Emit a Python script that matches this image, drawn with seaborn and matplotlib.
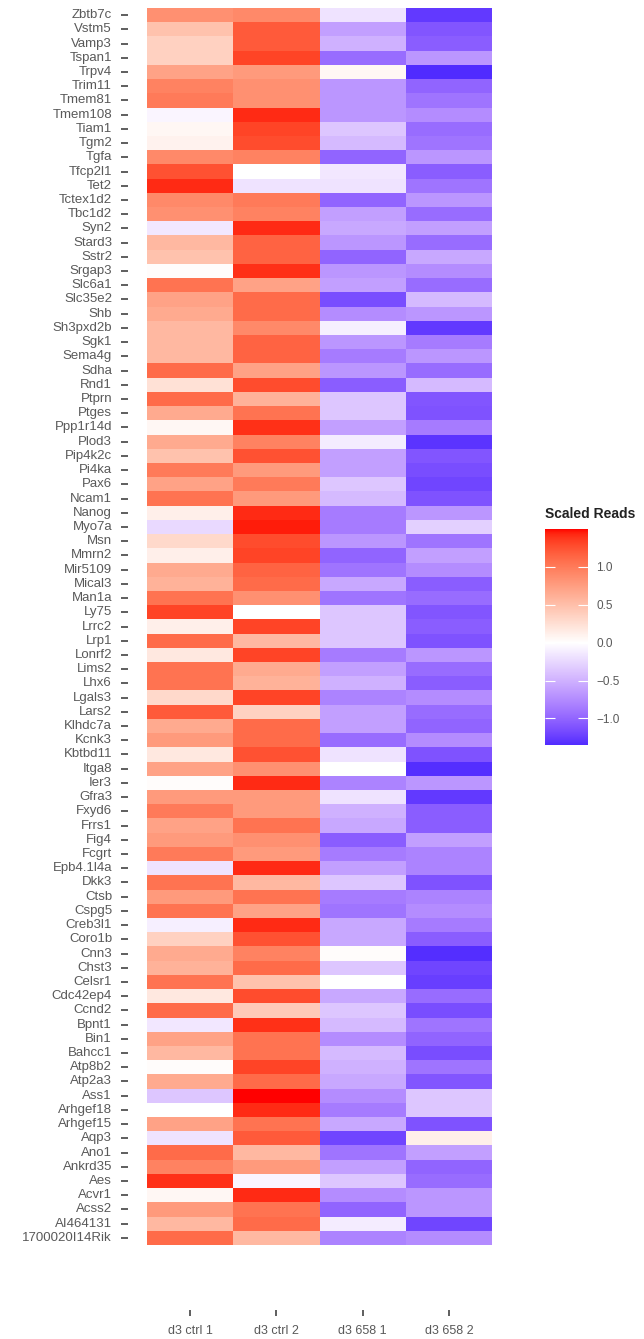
import numpy as np
import pandas as pd
import matplotlib
matplotlib.use("Agg")
import matplotlib.pyplot as plt
from matplotlib.colors import ListedColormap
import seaborn as sns

# ---- data -------------------------------------------------------------
genes = [
    "Zbtb7c", "Vstm5", "Vamp3", "Tspan1", "Trpv4", "Trim11", "Tmem81", "Tmem108",
    "Tiam1", "Tgm2", "Tgfa", "Tfcp2l1", "Tet2", "Tctex1d2", "Tbc1d2", "Syn2",
    "Stard3", "Sstr2", "Srgap3", "Slc6a1", "Slc35e2", "Shb", "Sh3pxd2b", "Sgk1",
    "Sema4g", "Sdha", "Rnd1", "Ptprn", "Ptges", "Ppp1r14d", "Plod3", "Pip4k2c",
    "Pi4ka", "Pax6", "Ncam1", "Nanog", "Myo7a", "Msn", "Mmrn2", "Mir5109",
    "Mical3", "Man1a", "Ly75", "Lrrc2", "Lrp1", "Lonrf2", "Lims2", "Lhx6",
    "Lgals3", "Lars2", "Klhdc7a", "Kcnk3", "Kbtbd11", "Itga8", "Ier3", "Gfra3",
    "Fxyd6", "Frrs1", "Fig4", "Fcgrt", "Epb4.1l4a", "Dkk3", "Ctsb", "Cspg5",
    "Creb3l1", "Coro1b", "Cnn3", "Chst3", "Celsr1", "Cdc42ep4", "Ccnd2", "Bpnt1",
    "Bin1", "Bahcc1", "Atp8b2", "Atp2a3", "Ass1", "Arhgef18", "Arhgef15", "Aqp3",
    "Ano1", "Ankrd35", "Aes", "Acvr1", "Acss2", "AI464131", "1700020I14Rik",
]

samples = ["d3 ctrl 1", "d3 ctrl 2", "d3 658 1", "d3 658 2"]

ctrl_1 = [
    0.85, 0.48, 0.36, 0.36, 0.72, 0.95, 1.00, -0.06, 0.06, 0.10, 0.90, 1.25,
    1.42, 0.90, 0.85, -0.15, 0.55, 0.48, 0.02, 1.05, 0.72, 0.66, 0.55, 0.55,
    0.55, 1.10, 0.24, 1.10, 0.66, 0.06, 0.66, 0.48, 1.00, 0.72, 1.05, 0.12,
    -0.24, 0.30, 0.12, 0.66, 0.60, 1.05, 1.32, 0.12, 1.10, 0.18, 1.05, 1.05,
    0.30, 1.20, 0.66, 0.78, 0.18, 0.72, 0.02, 0.78, 1.00, 0.72, 0.78, 1.00,
    -0.18, 1.05, 0.78, 1.05, -0.10, 0.36, 0.66, 0.60, 1.05, 0.18, 1.10, -0.15,
    0.72, 0.55, 0.02, 0.66, -0.36, 0.00, 0.72, -0.18, 1.10, 0.95, 1.40, 0.06,
    0.78, 0.55, 1.10,
]

ctrl_2 = [
    0.90, 1.20, 1.20, 1.32, 0.78, 0.85, 0.85, 1.42, 1.32, 1.28, 0.95, 0.00,
    -0.18, 1.00, 0.95, 1.42, 1.15, 1.15, 1.40, 0.72, 1.10, 1.10, 0.90, 1.15,
    1.15, 0.72, 1.28, 0.60, 1.05, 1.40, 0.95, 1.25, 0.78, 1.00, 0.78, 1.42,
    1.46, 1.28, 1.32, 1.15, 1.10, 0.85, 0.00, 1.32, 0.55, 1.32, 0.66, 0.60,
    1.32, 0.36, 1.10, 1.10, 1.25, 0.85, 1.42, 0.78, 0.78, 1.05, 0.85, 0.78,
    1.42, 0.55, 1.05, 0.72, 1.42, 1.25, 0.95, 1.10, 0.48, 1.28, 0.42, 1.40,
    1.05, 1.05, 1.32, 1.10, 1.50, 1.42, 1.05, 1.20, 0.55, 0.78, -0.06, 1.42,
    1.05, 1.10, 0.55,
]

t658_1 = [
    -0.18, -0.62, -0.50, -0.95, 0.06, -0.68, -0.68, -0.68, -0.36, -0.44, -1.00, -0.15,
    -0.18, -1.00, -0.62, -0.56, -0.68, -1.00, -0.68, -0.62, -1.15, -0.74, -0.10, -0.68,
    -0.85, -0.68, -1.05, -0.36, -0.36, -0.62, -0.12, -0.62, -0.62, -0.36, -0.44, -0.85,
    -0.85, -0.68, -1.00, -0.90, -0.56, -0.90, -0.36, -0.36, -0.36, -0.85, -0.62, -0.50,
    -0.80, -0.62, -0.62, -0.95, -0.18, 0.00, -0.80, -0.18, -0.50, -0.56, -1.05, -0.85,
    -0.62, -0.36, -0.85, -0.90, -0.56, -0.56, 0.02, -0.36, 0.00, -0.56, -0.36, -0.44,
    -0.74, -0.44, -0.50, -0.56, -0.74, -0.85, -0.56, -1.20, -0.90, -0.62, -0.36, -0.74,
    -1.00, -0.12, -0.80,
]

t658_2 = [
    -1.27, -1.10, -1.05, -0.68, -1.35, -1.00, -0.90, -0.74, -0.95, -0.90, -0.68, -1.05,
    -0.90, -0.68, -0.95, -0.62, -0.95, -0.56, -0.74, -0.95, -0.44, -0.68, -1.27, -0.85,
    -0.68, -0.95, -0.44, -1.10, -1.12, -0.85, -1.30, -1.10, -1.15, -1.20, -1.12, -0.68,
    -0.30, -0.90, -0.62, -0.74, -1.05, -0.95, -1.10, -1.05, -1.12, -0.68, -0.95, -1.05,
    -0.74, -0.95, -1.00, -0.74, -1.12, -1.33, -0.68, -1.27, -1.05, -1.05, -0.62, -0.80,
    -0.80, -1.12, -0.80, -0.74, -0.85, -1.05, -1.33, -1.20, -1.24, -0.95, -1.15, -0.90,
    -1.00, -1.15, -0.90, -1.10, -0.36, -0.36, -1.12, 0.12, -0.62, -1.00, -0.95, -0.68,
    -0.68, -1.20, -0.74,
]

df = pd.DataFrame(
    {samples[0]: ctrl_1, samples[1]: ctrl_2, samples[2]: t658_1, samples[3]: t658_2},
    index=genes,
)


# ---- diverging blue-white-red ramp interpolated in CIELAB ---------------
_M = np.array([[0.4124564, 0.3575761, 0.1804375],
               [0.2126729, 0.7151522, 0.0721750],
               [0.0193339, 0.1191920, 0.9503041]])
_WHITE = np.array([0.95047, 1.0, 1.08883])


def rgb_to_lab(rgb):
    c = np.asarray(rgb, dtype=float)
    lin = np.where(c <= 0.04045, c / 12.92, ((c + 0.055) / 1.055) ** 2.4)
    xyz = lin @ _M.T / _WHITE
    f = np.where(xyz > 0.008856, np.cbrt(xyz), 7.787 * xyz + 16 / 116)
    return np.array([116 * f[1] - 16, 500 * (f[0] - f[1]), 200 * (f[1] - f[2])])


def lab_to_rgb(lab):
    L, a, b = lab
    fy = (L + 16) / 116
    fx = fy + a / 500
    fz = fy - b / 200
    f = np.array([fx, fy, fz])
    xyz = np.where(f ** 3 > 0.008856, f ** 3, (f - 16 / 116) / 7.787) * _WHITE
    lin = np.linalg.solve(_M, xyz)
    lin = np.clip(lin, 0, 1)
    c = np.where(lin <= 0.0031308, 12.92 * lin, 1.055 * lin ** (1 / 2.4) - 0.055)
    return np.clip(c, 0, 1)


LOW, MID, HIGH = rgb_to_lab([0, 0, 1]), rgb_to_lab([1, 1, 1]), rgb_to_lab([1, 0, 0])


def ramp(t):
    if t <= 0.5:
        u = t / 0.5
        return lab_to_rgb(LOW + (MID - LOW) * u)
    u = (t - 0.5) / 0.5
    return lab_to_rgb(MID + (HIGH - MID) * u)


vals = df.values
lo, hi = vals.min(), vals.max()
span = max(abs(lo), abs(hi))
grid = np.linspace(lo, hi, 512)
cmap = ListedColormap([ramp(0.5 + g / (2 * span)) for g in grid])

# ---- figure -----------------------------------------------------------
W, H = 644, 1339
fig = plt.figure(figsize=(W / 100, H / 100), dpi=100)
fig.patch.set_facecolor("white")

plt.rcParams["font.family"] = ["Liberation Sans", "DejaVu Sans"]

ax = fig.add_axes([128 / W, 1 - 1310 / H, 383 / W, (1310 - 8) / H])
cax = fig.add_axes([545 / W, 1 - 745 / H, 43 / W, 216 / H])

sns.heatmap(
    df, ax=ax, cbar_ax=cax, cmap=cmap, vmin=lo, vmax=hi,
    xticklabels=True, yticklabels=True, linewidths=0,
)

n = len(genes)
ax.set_xlim(-0.22, 4.22)
ax.set_ylim(n + 65 / 14.22, 0)
ax.set_xlabel("")
ax.set_ylabel("")

label_color = "#595959"
ax.tick_params(axis="y", length=5, width=1.1, color="#333333", pad=6.5,
               labelsize=9.5, labelcolor=label_color)
ax.tick_params(axis="x", length=4, width=1.1, color="#333333", pad=7,
               labelsize=9, labelcolor=label_color, rotation=0)
for lbl in ax.get_yticklabels():
    lbl.set_rotation(0)

# colourbar styling
cbar = ax.collections[0].colorbar
cbar.outline.set_visible(False)
cbar.set_ticks([-1.0, -0.5, 0.0, 0.5, 1.0])
cbar.set_ticklabels(["\u22121.0", "\u22120.5", "0.0", "0.5", "1.0"])
cax.tick_params(axis="y", direction="in", color="white", length=7, width=0.8,
                left=True, right=True, labelleft=False, labelright=True,
                pad=6, labelsize=8.5, labelcolor=label_color)

fig.text(545 / W, 1 - 514 / H, "Scaled Reads", fontsize=10, fontweight="bold",
         color="#222222", ha="left", va="center")

fig.savefig("out.png", dpi=100, facecolor="white")
